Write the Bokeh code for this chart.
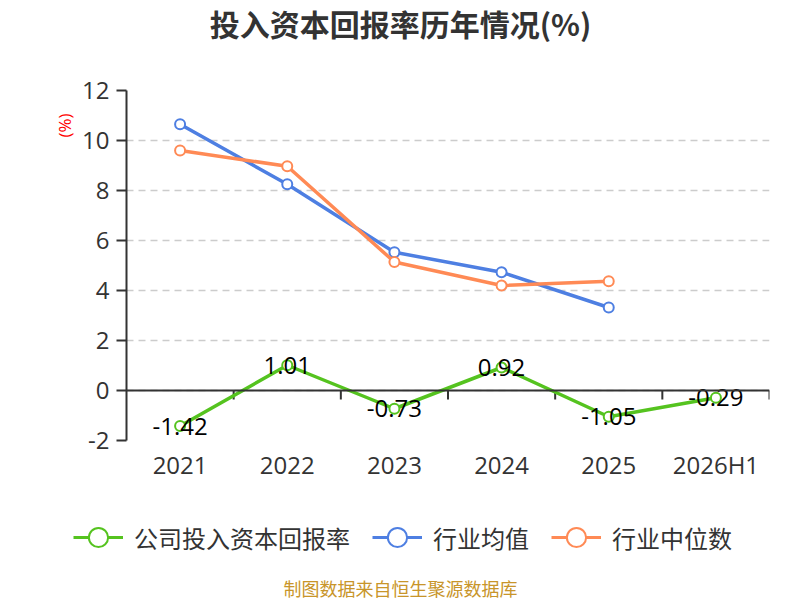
from bokeh.plotting import figure
from bokeh.layouts import column
from bokeh.models import (Range1d, FixedTicker, Span, Legend, LegendItem,
                          ColumnDataSource, Title, Label)
from bokeh.core.properties import value
from bokeh.embed import file_html
from bokeh.resources import INLINE

# ---- data ----
categories = ["2021", "2022", "2023", "2024", "2025", "2026H1"]
company = [-1.42, 1.01, -0.73, 0.92, -1.05, -0.29]
industry_avg = [10.65, 8.25, 5.53, 4.73, 3.32]
industry_median = [9.60, 8.97, 5.14, 4.20, 4.37]
y_ticks = [-2, 0, 2, 4, 6, 8, 10, 12]
series_names = ["公司投入资本回报率", "行业均值", "行业中位数"]

title_text = "投入资本回报率历年情况(%)"
unit_text = "(%)"
footer_text = "制图数据来自恒生聚源数据库"

GREEN = "#55c31f"
BLUE = "#4e7fe2"
ORANGE = "#ff8a55"
TXT = "#333333"
NUM_FONT = "Open Sans"
CJK_FONT = "Noto Sans CJK SC"
colors = [GREEN, BLUE, ORANGE]

xc = [i + 0.5 for i in range(len(categories))]


def strip(height):
    f = figure(width=800, height=height, output_backend="svg", toolbar_location=None,
               x_axis_type=None, y_axis_type=None, x_range=Range1d(0, 1),
               y_range=Range1d(0, 1), min_border_left=0, min_border_right=0,
               min_border_top=0, min_border_bottom=0)
    f.frame_align = False
    f.outline_line_color = None
    f.xgrid.grid_line_color = None
    f.ygrid.grid_line_color = None
    f.background_fill_color = "white"
    f.border_fill_color = "white"
    return f


# ---- title strip ----
t = strip(45)
t.add_layout(Label(x=400, y=23, x_units="screen", y_units="screen", text=title_text,
                   text_align="center", text_baseline="middle", text_font=CJK_FONT,
                   text_font_size="30px", text_font_style="bold", text_color=TXT))

# ---- main chart ----
p = figure(width=800, height=455, output_backend="svg", toolbar_location=None,
           x_range=Range1d(0, len(categories)), y_range=Range1d(min(y_ticks), max(y_ticks)),
           min_border_left=126, min_border_right=31, min_border_top=45,
           min_border_bottom=60)
p.frame_align = False
p.outline_line_color = None
p.background_fill_color = "white"
p.border_fill_color = "white"

p.xaxis.ticker = FixedTicker(ticks=xc)
p.xaxis.major_label_overrides = {x: c for x, c in zip(xc, categories)}
p.xaxis.axis_line_color = None
p.xaxis.major_tick_line_color = None
p.xaxis.minor_tick_line_color = None
p.xaxis.major_tick_out = 0
p.xaxis.major_label_standoff = 7
p.xaxis.major_label_text_font = NUM_FONT
p.xaxis.major_label_text_font_size = "24px"
p.xaxis.major_label_text_color = TXT

p.yaxis.ticker = FixedTicker(ticks=y_ticks)
p.yaxis.major_label_overrides = {v: str(v) for v in y_ticks}
p.yaxis.axis_line_color = TXT
p.yaxis.axis_line_width = 2
p.yaxis.major_tick_line_color = TXT
p.yaxis.major_tick_line_width = 2
p.yaxis.major_tick_out = 10
p.yaxis.major_tick_in = 0
p.yaxis.minor_tick_line_color = None
p.yaxis.major_label_standoff = 7
p.yaxis.major_label_text_font = NUM_FONT
p.yaxis.major_label_text_font_size = "24px"
p.yaxis.major_label_text_color = TXT

p.xgrid.grid_line_color = None
p.ygrid.ticker = FixedTicker(ticks=y_ticks)
p.ygrid.grid_line_color = "#cccccc"
p.ygrid.grid_line_width = 1.5
p.ygrid.grid_line_dash = "7 5"

p.add_layout(Span(location=0, dimension="width", line_color=TXT, line_width=2))
bounds = list(range(1, len(categories) + 1))
p.segment(x0=bounds, y0=[0] * len(bounds), x1=bounds, y1=[-0.36] * len(bounds),
          line_color=TXT, line_width=2)


def series(vals, color):
    xs = xc[:len(vals)]
    p.line(xs, vals, line_color=color, line_width=3.5)
    p.scatter(xs, vals, size=10, marker="circle", fill_color="white",
              line_color=color, line_width=2)


series(company, GREEN)
series(industry_avg, BLUE)
series(industry_median, ORANGE)

lab_src = ColumnDataSource(dict(x=xc, y=company, t=["%.2f" % v for v in company]))
p.text(x="x", y="y", text="t", source=lab_src, text_align="center",
       text_baseline="middle", text_font=value(NUM_FONT), text_font_size="24px",
       text_color="black")

p.add_layout(Title(text=unit_text, align="right", offset=23, text_font=NUM_FONT,
                   text_font_size="17px", text_font_style="normal", text_color="red",
                   standoff=8), "left")

# ---- bottom strip: legend + footer ----
q = strip(100)
nan = float("nan")
items = []
for name, c in zip(series_names, colors):
    lr = q.line(x=[nan], y=[nan], line_color=c, line_width=3)
    sr = q.scatter(x=[nan], y=[nan], marker="circle", fill_color="white", line_color=c,
                   line_width=2)
    items.append(LegendItem(label=name, renderers=[lr, sr]))

legend = Legend(items=items, orientation="horizontal", location=(73, 39))
legend.glyph_width = 50
legend.glyph_height = 48
legend.label_standoff = 11
legend.spacing = 22
legend.padding = 0
legend.margin = 0
legend.border_line_color = None
legend.background_fill_alpha = 0
legend.label_text_font = CJK_FONT
legend.label_text_font_size = "24px"
legend.label_text_color = TXT
q.add_layout(legend, "center")

q.add_layout(Label(x=400, y=13, x_units="screen", y_units="screen", text=footer_text,
                   text_align="center", text_baseline="middle", text_font=CJK_FONT,
                   text_font_size="18px", text_color="#c8952a"))

page = column(t, p, q, spacing=0)
open("out.html", "w").write(file_html(page, INLINE))
